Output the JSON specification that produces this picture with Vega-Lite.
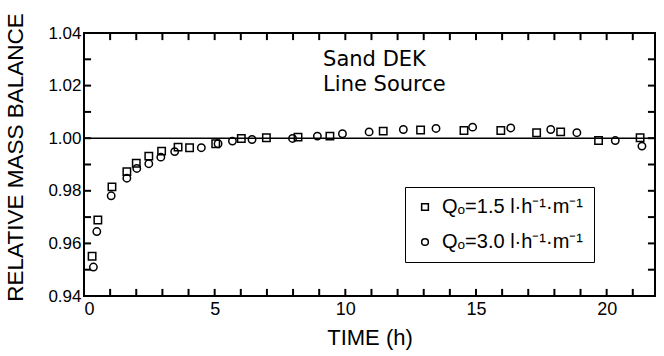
{
  "$schema": "https://vega.github.io/schema/vega-lite/v6.json",
  "width": 571,
  "height": 263,
  "autosize": "none",
  "padding": {"left": 84, "top": 33, "right": 9, "bottom": 60},
  "background": "white",
  "config": {
    "font": "Liberation Sans",
    "view": {"stroke": "black", "strokeWidth": 2},
    "axis": {
      "domain": false,
      "grid": false,
      "ticks": false,
      "labelColor": "black",
      "titleColor": "black",
      "titleFontWeight": "normal",
      "labelFont": "Liberation Sans",
      "titleFont": "Liberation Sans"
    }
  },
  "datasets": {
    "hours": [{"h": 1}, {"h": 2}, {"h": 3}, {"h": 4}, {"h": 5}, {"h": 6}, {"h": 7}, {"h": 8}, {"h": 9}, {"h": 10}, {"h": 11}, {"h": 12}, {"h": 13}, {"h": 14}, {"h": 15}, {"h": 16}, {"h": 17}, {"h": 18}, {"h": 19}, {"h": 20}, {"h": 21}],
    "levels": [{"r": 0.95}, {"r": 0.96}, {"r": 0.97}, {"r": 0.98}, {"r": 0.99}, {"r": 1.0}, {"r": 1.01}, {"r": 1.02}, {"r": 1.03}]
  },
  "resolve": {"axis": {"x": "independent", "y": "independent"}},
  "layer": [
    {
      "data": {
        "values": [
          {"t": 0.31, "v": 0.9551, "series": "Qₒ=1.5 l·h⁻¹·m⁻¹"},
          {"t": 0.53, "v": 0.9689, "series": "Qₒ=1.5 l·h⁻¹·m⁻¹"},
          {"t": 1.07, "v": 0.9815, "series": "Qₒ=1.5 l·h⁻¹·m⁻¹"},
          {"t": 1.64, "v": 0.9873, "series": "Qₒ=1.5 l·h⁻¹·m⁻¹"},
          {"t": 2.00, "v": 0.9905, "series": "Qₒ=1.5 l·h⁻¹·m⁻¹"},
          {"t": 2.48, "v": 0.9932, "series": "Qₒ=1.5 l·h⁻¹·m⁻¹"},
          {"t": 2.97, "v": 0.9951, "series": "Qₒ=1.5 l·h⁻¹·m⁻¹"},
          {"t": 3.60, "v": 0.9966, "series": "Qₒ=1.5 l·h⁻¹·m⁻¹"},
          {"t": 4.04, "v": 0.9964, "series": "Qₒ=1.5 l·h⁻¹·m⁻¹"},
          {"t": 5.04, "v": 0.9979, "series": "Qₒ=1.5 l·h⁻¹·m⁻¹"},
          {"t": 6.02, "v": 0.9999, "series": "Qₒ=1.5 l·h⁻¹·m⁻¹"},
          {"t": 6.98, "v": 1.0002, "series": "Qₒ=1.5 l·h⁻¹·m⁻¹"},
          {"t": 8.19, "v": 1.0004, "series": "Qₒ=1.5 l·h⁻¹·m⁻¹"},
          {"t": 9.41, "v": 1.0008, "series": "Qₒ=1.5 l·h⁻¹·m⁻¹"},
          {"t": 11.45, "v": 1.0027, "series": "Qₒ=1.5 l·h⁻¹·m⁻¹"},
          {"t": 12.88, "v": 1.0031, "series": "Qₒ=1.5 l·h⁻¹·m⁻¹"},
          {"t": 14.54, "v": 1.0029, "series": "Qₒ=1.5 l·h⁻¹·m⁻¹"},
          {"t": 15.95, "v": 1.0029, "series": "Qₒ=1.5 l·h⁻¹·m⁻¹"},
          {"t": 17.32, "v": 1.0021, "series": "Qₒ=1.5 l·h⁻¹·m⁻¹"},
          {"t": 18.24, "v": 1.0024, "series": "Qₒ=1.5 l·h⁻¹·m⁻¹"},
          {"t": 19.69, "v": 0.9991, "series": "Qₒ=1.5 l·h⁻¹·m⁻¹"},
          {"t": 21.28, "v": 1.0002, "series": "Qₒ=1.5 l·h⁻¹·m⁻¹"},
          {"t": 0.36, "v": 0.9510, "series": "Qₒ=3.0 l·h⁻¹·m⁻¹"},
          {"t": 0.49, "v": 0.9645, "series": "Qₒ=3.0 l·h⁻¹·m⁻¹"},
          {"t": 1.04, "v": 0.9781, "series": "Qₒ=3.0 l·h⁻¹·m⁻¹"},
          {"t": 1.64, "v": 0.9848, "series": "Qₒ=3.0 l·h⁻¹·m⁻¹"},
          {"t": 2.02, "v": 0.9885, "series": "Qₒ=3.0 l·h⁻¹·m⁻¹"},
          {"t": 2.48, "v": 0.9903, "series": "Qₒ=3.0 l·h⁻¹·m⁻¹"},
          {"t": 2.94, "v": 0.9928, "series": "Qₒ=3.0 l·h⁻¹·m⁻¹"},
          {"t": 3.47, "v": 0.9949, "series": "Qₒ=3.0 l·h⁻¹·m⁻¹"},
          {"t": 4.49, "v": 0.9964, "series": "Qₒ=3.0 l·h⁻¹·m⁻¹"},
          {"t": 5.13, "v": 0.9979, "series": "Qₒ=3.0 l·h⁻¹·m⁻¹"},
          {"t": 5.68, "v": 0.9989, "series": "Qₒ=3.0 l·h⁻¹·m⁻¹"},
          {"t": 6.43, "v": 0.9995, "series": "Qₒ=3.0 l·h⁻¹·m⁻¹"},
          {"t": 7.98, "v": 0.9999, "series": "Qₒ=3.0 l·h⁻¹·m⁻¹"},
          {"t": 8.93, "v": 1.0008, "series": "Qₒ=3.0 l·h⁻¹·m⁻¹"},
          {"t": 9.89, "v": 1.0017, "series": "Qₒ=3.0 l·h⁻¹·m⁻¹"},
          {"t": 10.91, "v": 1.0024, "series": "Qₒ=3.0 l·h⁻¹·m⁻¹"},
          {"t": 12.22, "v": 1.0033, "series": "Qₒ=3.0 l·h⁻¹·m⁻¹"},
          {"t": 13.47, "v": 1.0037, "series": "Qₒ=3.0 l·h⁻¹·m⁻¹"},
          {"t": 14.87, "v": 1.0042, "series": "Qₒ=3.0 l·h⁻¹·m⁻¹"},
          {"t": 16.33, "v": 1.0039, "series": "Qₒ=3.0 l·h⁻¹·m⁻¹"},
          {"t": 17.86, "v": 1.0033, "series": "Qₒ=3.0 l·h⁻¹·m⁻¹"},
          {"t": 18.86, "v": 1.0021, "series": "Qₒ=3.0 l·h⁻¹·m⁻¹"},
          {"t": 20.33, "v": 0.9991, "series": "Qₒ=3.0 l·h⁻¹·m⁻¹"},
          {"t": 21.35, "v": 0.9970, "series": "Qₒ=3.0 l·h⁻¹·m⁻¹"}
        ]
      },
      "mark": {"type": "point", "filled": false, "color": "black", "strokeWidth": 1.5, "size": 55, "opacity": 1},
      "encoding": {
        "x": {
          "field": "t", "type": "quantitative",
          "scale": {"domain": [0, 21.85], "nice": false, "zero": false},
          "axis": {
            "orient": "bottom",
            "values": [0, 5, 10, 15, 20],
            "labelFontSize": 18,
            "labelPadding": 4,
            "title": "TIME (h)",
            "titleFontSize": 22,
            "titlePadding": 9
          }
        },
        "y": {
          "field": "v", "type": "quantitative",
          "scale": {"domain": [0.94, 1.04], "nice": false, "zero": false},
          "axis": {
            "orient": "left",
            "values": [0.94, 0.96, 0.98, 1.0, 1.02, 1.04],
            "format": ".2f",
            "labelFontSize": 17,
            "labelPadding": 3,
            "title": "RELATIVE MASS BALANCE",
            "titleFontSize": 22.5,
            "titleAngle": -90,
            "titleX": -69,
            "titleY": 124,
            "titleAlign": "center",
            "titleBaseline": "middle"
          }
        },
        "shape": {
          "field": "series", "type": "nominal",
          "scale": {"domain": ["Qₒ=1.5 l·h⁻¹·m⁻¹", "Qₒ=3.0 l·h⁻¹·m⁻¹"], "range": ["square", "circle"]},
          "legend": {
            "orient": "none",
            "legendX": 321,
            "legendY": 154,
            "title": null,
            "strokeColor": "black",
            "fillColor": "white",
            "padding": 10,
            "rowPadding": 15,
            "labelFontSize": 20,
            "labelFont": "Liberation Sans",
            "labelColor": "black",
            "labelOffset": 7,
            "symbolSize": 45,
            "symbolStrokeWidth": 1.5,
            "symbolStrokeColor": "black",
            "symbolFillColor": "transparent"
          }
        }
      }
    },
    {
      "data": {"values": [{"level": 1.0}]},
      "mark": {"type": "rule", "color": "black", "strokeWidth": 1.5},
      "encoding": {
        "x": {"datum": 0, "type": "quantitative", "axis": null},
        "x2": {"datum": 21.85},
        "y": {"field": "level", "type": "quantitative", "axis": null}
      }
    },
    {
      "data": {"name": "hours"},
      "mark": {"type": "rule", "color": "black", "strokeWidth": 2},
      "encoding": {
        "x": {"field": "h", "type": "quantitative", "axis": null},
        "y": {"datum": 0.94, "type": "quantitative", "axis": null},
        "y2": {"datum": 0.9427}
      }
    },
    {
      "data": {"name": "hours"},
      "mark": {"type": "rule", "color": "black", "strokeWidth": 2},
      "encoding": {
        "x": {"field": "h", "type": "quantitative", "axis": null},
        "y": {"datum": 1.04, "type": "quantitative", "axis": null},
        "y2": {"datum": 1.0373}
      }
    },
    {
      "data": {"name": "levels"},
      "mark": {"type": "rule", "color": "black", "strokeWidth": 2},
      "encoding": {
        "y": {"field": "r", "type": "quantitative", "axis": null},
        "x": {"datum": 0, "type": "quantitative", "axis": null},
        "x2": {"datum": 0.27}
      }
    },
    {
      "data": {"name": "levels"},
      "mark": {"type": "rule", "color": "black", "strokeWidth": 2},
      "encoding": {
        "y": {"field": "r", "type": "quantitative", "axis": null},
        "x": {"datum": 21.85, "type": "quantitative", "axis": null},
        "x2": {"datum": 21.58}
      }
    },
    {
      "data": {"values": [{"t": 9.15, "v": 1.0273, "note": ["Sand DEK", "Line Source"]}]},
      "mark": {"type": "text", "align": "left", "baseline": "alphabetic", "fontSize": 21, "lineHeight": 25, "font": "DejaVu Sans", "color": "black"},
      "encoding": {
        "x": {"field": "t", "type": "quantitative", "axis": null},
        "y": {"field": "v", "type": "quantitative", "axis": null},
        "text": {"field": "note"}
      }
    }
  ]
}
